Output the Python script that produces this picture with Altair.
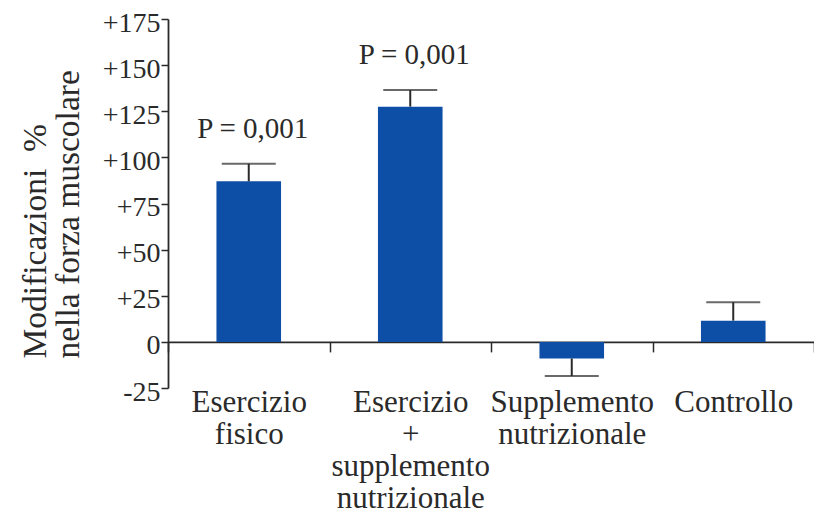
import altair as alt
import pandas as pd

categories = ["Esercizio\nfisico", "Esercizio\n+\nsupplemento\nnutrizionale",
              "Supplemento\nnutrizionale", "Controllo"]
values = [87, 127.5, -9, 11.5]
err_ends = [96.5, 136.5, -18.5, 21.5]
p_labels = ["P = 0,001", "P = 0,001", "", ""]
y_ticks = [-25, 0, 25, 50, 75, 100, 125, 150, 175]

df = pd.DataFrame({"cat": categories, "val": values, "err": err_ends, "p": p_labels})

W, H = 646, 369
FONT = "Liberation Serif"
BLUE = "#0d4ea6"
INK = "#2a2a2a"

x = alt.X("cat:N", sort=categories,
          scale=alt.Scale(paddingInner=0, paddingOuter=0),
          axis=alt.Axis(title=None, orient="bottom", offset=-H / 8,
                        labelExpr="split(datum.label, '\\n')",
                        labelAngle=0, labelFont=FONT, labelFontSize=31,
                        labelColor=INK, labelBaseline="alphabetic",
                        labelLineHeight=32, labelPadding=60,
                        tickBand="extent", tickSize=10, tickColor=INK,
                        tickWidth=1.5, domainColor=INK, domainWidth=1.8,
                        grid=False))

y = alt.Y("val:Q",
          scale=alt.Scale(domain=[-25, 175], nice=False, zero=False),
          axis=alt.Axis(values=y_ticks,
                        labelExpr="datum.value > 0 ? '+' + datum.value : '' + datum.value",
                        title=["Modificazioni\u00a0\u00a0%", "nella forza muscolare"],
                        titleFont=FONT, titleFontSize=33.5, titleFontWeight="normal",
                        titleColor=INK, titleAngle=270, titleAlign="left",
                        titleBaseline="alphabetic", titleLineHeight=33,
                        titleX=-123, titleY=339,
                        labelFont=FONT, labelFontSize=28, labelColor=INK,
                        labelPadding=1, labelOffset=4,
                        tickSize=7, tickColor=INK, tickWidth=1.5,
                        domainColor=INK, domainWidth=1.8, grid=False))

base = alt.Chart(df)

bars = base.mark_bar(color=BLUE, width=alt.RelativeBandSize(0.4)).encode(x=x, y=y)

rules = base.mark_rule(color=INK, strokeWidth=2).encode(
    x=alt.X("cat:N", sort=categories), y="val:Q", y2="err:Q")

caps = base.mark_tick(color=INK, size=54, thickness=2).encode(
    x=alt.X("cat:N", sort=categories), y="err:Q")

texts = base.transform_filter("datum.p != ''").mark_text(
    font=FONT, fontSize=29, color=INK, baseline="alphabetic", dy=-26, dx=4
).encode(x=alt.X("cat:N", sort=categories), y="err:Q", text="p:N")

chart = alt.layer(bars, rules, caps, texts).properties(
    width=W, height=H,
    autosize=alt.AutoSizeParams(type="none"),
    padding={"left": 160, "top": 11, "right": 0, "bottom": 128},
    background="white",
).configure_view(stroke=None)

chart.save("out.html", embed_options={"renderer": "svg", "actions": False})
